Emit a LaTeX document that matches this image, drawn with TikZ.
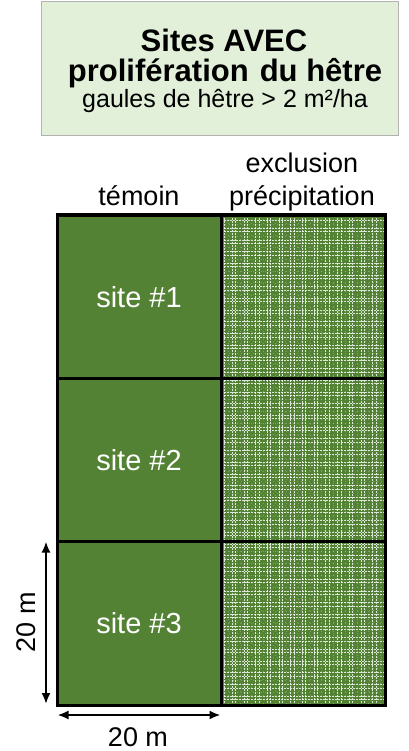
\documentclass[tikz,border=0pt]{standalone}
\usepackage{fontspec}
\setmainfont{Liberation Sans}
\usetikzlibrary{arrows.meta}
\definecolor{boxgreen}{HTML}{E2F0D9}
\definecolor{sitegreen}{HTML}{548235}
\tikzset{
  titlebig/.style={font=\fontsize{31}{36}\selectfont\bfseries, anchor=base, inner sep=0pt},
  titlesmall/.style={font=\fontsize{25}{30}\selectfont, anchor=base, inner sep=0pt},
  lbl/.style={font=\fontsize{27}{32}\selectfont, anchor=base, inner sep=0pt},
  sitelbl/.style={font=\fontsize{29}{34}\selectfont, text=white, inner sep=0pt},
  dim/.style={line width=2pt, {Latex[length=11pt,width=9pt]}-{Latex[length=11pt,width=9pt]}},
  patA/.style={white, line width=1pt, dash pattern=on 2pt off 1pt, opacity=0.8},
  patB/.style={white, line width=0.8pt, dash pattern=on 1pt off 3pt, opacity=0.25},
}
\begin{document}
\begin{tikzpicture}[x=1pt,y=-1pt]
\useasboundingbox (0,0) rectangle (408,751);
% title box
\node[draw=black!30, line width=0.8pt, fill=boxgreen, minimum width=357pt, minimum height=134pt, anchor=north west, inner sep=0pt] (titlebox) at (41,1) {};
\node[titlebig] (t1) at (224,52) {Sites AVEC};
\node[titlebig] (t2) at (225,82) {prolifération\hspace{11pt}du hêtre};
\node[titlesmall] (t3) at (225,108) {gaules de hêtre > 2 m²/ha};
% column headers
\node[lbl] (temoin) at (139,206) {témoin};
\node[lbl] (excl1) at (302,173) {exclusion};
\node[lbl] (excl2) at (302,206) {précipitation};
% background fill
\fill[sitegreen] (57,215) rectangle (385,705);
% pattern in right column
\begin{scope}
\clip (221,215) rectangle (385,705);
\foreach \i in {0,...,15} {
  \draw[patA] ({224+\i*11.7},215) -- ({224+\i*11.7},705);
  \draw[patA] ({232.3+\i*11.7},215) -- ({232.3+\i*11.7},705);
  \draw[patB] ({228.2+\i*11.7},215) -- ({228.2+\i*11.7},705);
}
\foreach \j in {0,...,43} {
  \draw[patA] (221,{220+\j*11.7}) -- (385,{220+\j*11.7});
  \draw[patA] (221,{228.3+\j*11.7}) -- (385,{228.3+\j*11.7});
  \draw[patB] (221,{224.2+\j*11.7}) -- (385,{224.2+\j*11.7});
}
\end{scope}
% cells
\foreach \r/\y in {1/215,2/378.3,3/541.7} {
  \draw[line width=3pt] (57,\y) rectangle (221,{\y+163.3});
  \draw[line width=3pt] (221,\y) rectangle (385,{\y+163.3});
}
\node[sitelbl] (s1) at (139,297) {site \#1};
\node[sitelbl] (s2) at (139,460) {site \#2};
\node[sitelbl] (s3) at (139,623) {site \#3};
% dimensions
\coordinate (va) at (46,541.5);
\coordinate (vb) at (46,704);
\coordinate (ha) at (57.5,715);
\coordinate (hb) at (220.5,715);
\draw[dim] (va) -- (vb);
\draw[dim] (ha) -- (hb);
\node[lbl, anchor=center, rotate=90] (dv) at (26,622) {20 m};
\node[lbl] (dh) at (138,746.5) {20 m};
\end{tikzpicture}
\end{document}
